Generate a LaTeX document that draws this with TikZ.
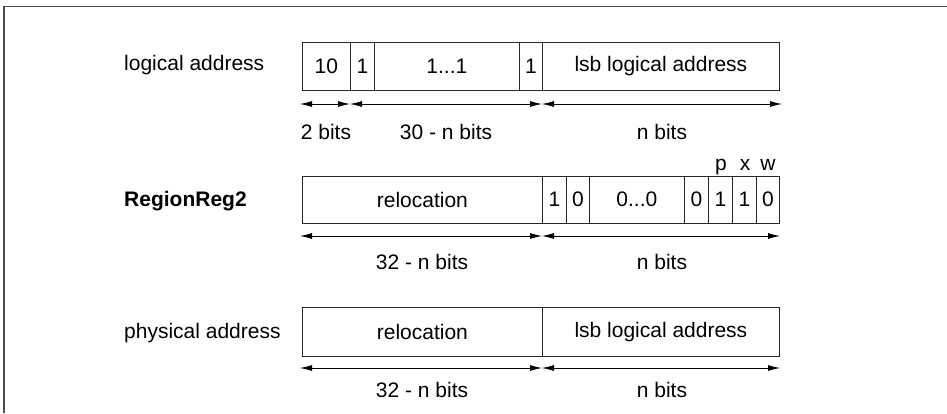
\documentclass[tikz,border=0pt]{standalone}
\usepackage{fontspec}
\setmainfont{Liberation Sans}
\usetikzlibrary{arrows.meta}
\begin{document}
\begin{tikzpicture}[x=1pt,y=-1pt,
  cell/.style={draw=black!85,line width=0.8pt,inner sep=0pt,anchor=west,minimum height=48pt},
  lbl/.style={inner sep=0pt,anchor=base},
  rowname/.style={inner sep=0pt,anchor=west},
  dim/.style={line width=0.8pt,{Latex[length=12pt,width=6pt]}-{Latex[length=12pt,width=6pt]}},
  frame/.style={draw=black!70,line width=1.1pt},
  font=\fontsize{21}{25}\selectfont]
\useasboundingbox (0,0) rectangle (947,413);
\draw[frame] (4,413) -- (4,6.5) -- (947,6.5);

% ---------- row 1: logical address
\node[rowname] (n1) at (124,65) {logical address};
\node[cell,minimum width=48pt] (a1) at (302,66) {10};
\node[cell,minimum width=24pt] (a2) at (350,66) {1};
\node[cell,minimum width=145pt] (a3) at (374,66) {1...1};
\node[cell,minimum width=23pt] (a4) at (519,66) {1};
\node[cell,minimum width=237pt] (a5) at (542,66) {lsb logical address};
\coordinate (d1a) at (300,104);
\coordinate (d1b) at (350,104);
\coordinate (d1c) at (542,104);
\coordinate (d1d) at (782,104);
\draw[dim] (d1a) -- (d1b);
\draw[dim] (d1b) -- (d1c);
\draw[dim] (d1c) -- (d1d);
\node[lbl] (l1a) at (326,139.5) {2 bits};
\node[lbl] (l1b) at (446,139.5) {30 - n bits};
\node[lbl] (l1c) at (662,139.5) {n bits};

% ---------- row 2: RegionReg2
\node[rowname,font=\fontsize{21}{25}\selectfont\bfseries] (n2) at (124,201) {RegionReg2};
\node[cell,minimum width=240pt,minimum height=47pt] (b1) at (302,199.5) {relocation};
\node[cell,minimum width=24pt,minimum height=47pt] (b2) at (542,199.5) {1};
\node[cell,minimum width=23pt,minimum height=47pt] (b3) at (566,199.5) {0};
\node[cell,minimum width=95pt,minimum height=47pt] (b4) at (589,199.5) {0...0};
\node[cell,minimum width=24pt,minimum height=47pt] (b5) at (684,199.5) {0};
\node[cell,minimum width=24pt,minimum height=47pt] (b6) at (708,199.5) {1};
\node[cell,minimum width=24pt,minimum height=47pt] (b7) at (732,199.5) {1};
\node[cell,minimum width=23pt,minimum height=47pt] (b8) at (756,199.5) {0};
\node[lbl] (fp) at (721,170) {p};
\node[lbl] (fx) at (745,170) {x};
\node[lbl] (fw) at (768,170) {w};
\coordinate (d2a) at (300,236);
\coordinate (d2b) at (542,236);
\coordinate (d2c) at (780,236);
\draw[dim] (d2a) -- (d2b);
\draw[dim] (d2b) -- (d2c);
\node[lbl] (l2a) at (422,269.5) {32 - n bits};
\node[lbl] (l2b) at (662,269.5) {n bits};

% ---------- row 3: physical address
\node[rowname] (n3) at (124,333) {physical address};
\node[cell,minimum width=240pt,minimum height=49pt] (c1) at (302,332) {relocation};
\node[cell,minimum width=237pt,minimum height=49pt] (c2) at (542,332) {lsb logical address};
\coordinate (d3a) at (300,368);
\coordinate (d3b) at (542,368);
\coordinate (d3c) at (780,368);
\draw[dim] (d3a) -- (d3b);
\draw[dim] (d3b) -- (d3c);
\node[lbl] (l3a) at (422,397.5) {32 - n bits};
\node[lbl] (l3b) at (662,397.5) {n bits};
\end{tikzpicture}
\end{document}
